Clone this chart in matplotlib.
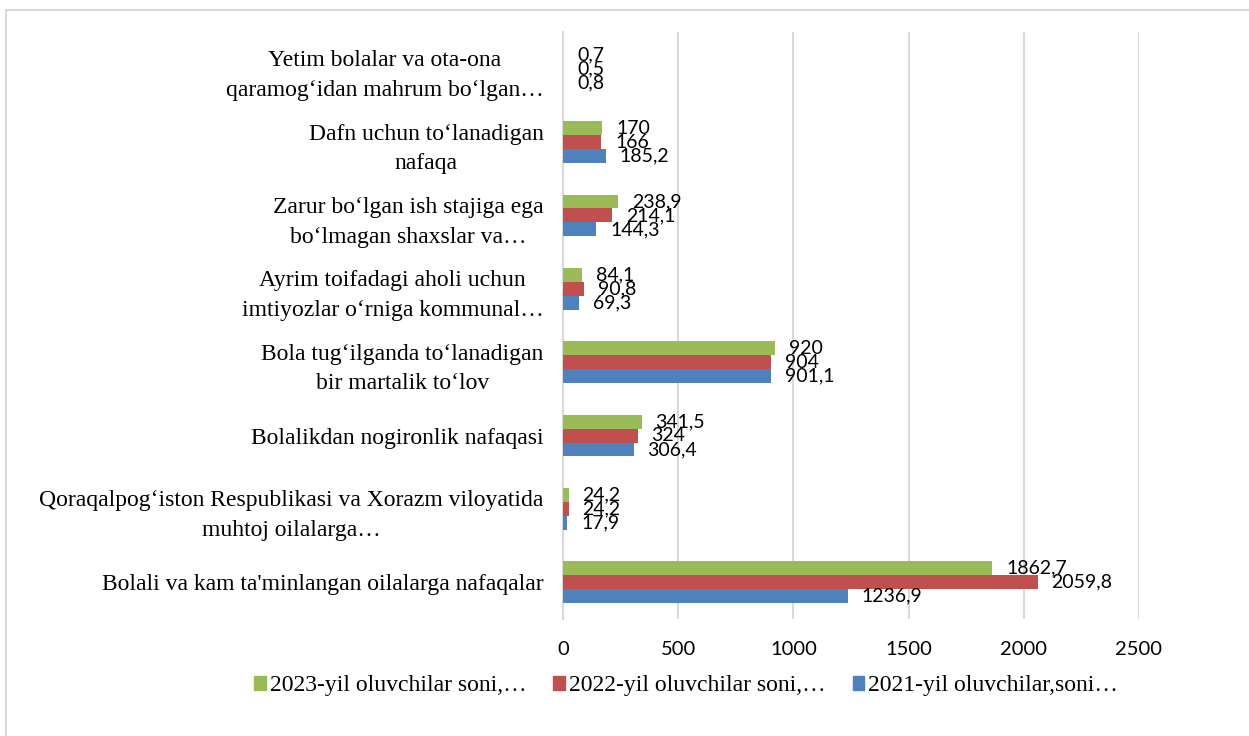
import matplotlib
matplotlib.use("Agg")
import matplotlib.pyplot as plt
from matplotlib.patches import Rectangle, Patch
import numpy as np

# categories listed bottom -> top (as drawn in barh)
categories = [
    "Bolali va kam ta'minlangan oilalarga nafaqalar",
    "Qoraqalpog‘iston Respublikasi va Xorazm viloyatida\nmuhtoj oilalarga…",
    "Bolalikdan nogironlik nafaqasi",
    "Bola tug‘ilganda to‘lanadigan\nbir martalik to‘lov",
    "Ayrim toifadagi aholi uchun\nimtiyozlar o‘rniga kommunal…",
    "Zarur bo‘lgan ish stajiga ega\nbo‘lmagan shaxslar va…",
    "Dafn uchun to‘lanadigan\nnafaqa",
    "Yetim bolalar va ota-ona\nqaramog‘idan mahrum bo‘lgan…",
]
v2021 = [1236.9, 17.9, 306.4, 901.1, 69.3, 144.3, 185.2, 0.8]
v2022 = [2059.8, 24.2, 324, 904, 90.8, 214.1, 166, 0.5]
v2023 = [1862.7, 24.2, 341.5, 920, 84.1, 238.9, 170, 0.7]
series_names = ["2021-yil oluvchilar,soni…", "2022-yil oluvchilar soni,…", "2023-yil oluvchilar soni,…"]
colors = ["#4F81BD", "#C0504D", "#9BBB59"]
xticks = [0, 500, 1000, 1500, 2000, 2500]

SERIF = "Liberation Serif"
SANS = "Lato"

fig = plt.figure(figsize=(12.49, 7.36), dpi=100)
ax = fig.add_axes([563 / 1249, 1 - 619 / 736, 576 / 1249, 587 / 736])

y = np.arange(len(categories))
h = 0.19
fmt = lambda v: (f"{v:g}").replace(".", ",")
for k, (vals, c) in enumerate(zip([v2021, v2022, v2023], colors)):
    bars = ax.barh(y + (k - 1) * h, vals, h, color=c, zorder=3)
    for b, v in zip(bars, vals):
        ax.annotate(fmt(v), (b.get_width(), b.get_y() + b.get_height() / 2),
                    xytext=(10, 0), textcoords="offset points", ha="left", va="center",
                    fontsize=14, family=SANS, color="black", zorder=4)

ax.set_xlim(0, 2500)
ax.set_ylim(-0.5, len(categories) - 0.5)
ax.set_xticks(xticks)
ax.set_xticklabels([str(t) for t in xticks], fontsize=14.5, family=SANS)
ax.set_yticks(y)
ax.set_yticklabels(categories, fontsize=17, family=SERIF)
for lab in ax.get_yticklabels():
    lab.set_multialignment("center")
    lab.set_linespacing(1.55)
ax.tick_params(axis="x", length=0, pad=16)
ax.tick_params(axis="y", length=0, pad=14)
ax.grid(axis="x", color="#D9D9D9", lw=1.5, zorder=0)
for s in ["top", "right", "bottom"]:
    ax.spines[s].set_visible(False)
ax.spines["left"].set_color("#D9D9D9")
ax.spines["left"].set_linewidth(1.5)

handles = [Patch(color=colors[i]) for i in (2, 1, 0)]
labels = [series_names[i] for i in (2, 1, 0)]
fig.legend(handles, labels, loc="center", bbox_to_anchor=(686 / 1249, 1 - 686 / 736), ncol=3,
           frameon=False, prop={"family": SERIF, "size": 17}, handlelength=0.5, handleheight=0.5,
           handletextpad=0.15, columnspacing=1.15)

fig.patches.append(Rectangle((6 / 1249, -0.02), 1.1, 1 - 10 / 736 + 0.02, transform=fig.transFigure,
                             fill=False, edgecolor="#D9D9D9", lw=1.5))

fig.savefig("out.png", dpi=100)
